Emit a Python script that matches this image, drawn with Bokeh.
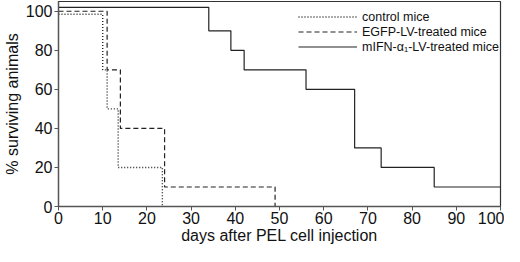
from bokeh.plotting import figure
from bokeh.models import Range1d, Legend, LegendItem, FixedTicker
from bokeh.embed import file_html
from bokeh.resources import INLINE

# Kaplan-Meier style survival data (days, % surviving)
control_days = [0, 10, 11, 13.5, 23.5]
control_surv = [98.5, 70, 50, 20, 0]

egfp_days = [0, 11, 14, 24, 49]
egfp_surv = [100, 70, 40, 10, 0]

mifn_days = [0, 34, 39, 42, 56, 67, 73, 85, 100]
mifn_surv = [102, 90, 80, 70, 60, 30, 20, 10, 10]

x_ticks = [0, 10, 20, 30, 40, 50, 60, 70, 80, 90, 100]
y_ticks = [0, 20, 40, 60, 80, 100]

FONT = "Liberation Sans"
LINE = "#222222"

p = figure(width=504, height=246, output_backend="svg", toolbar_location=None,
           x_range=Range1d(0, 100), y_range=Range1d(0, 105),
           min_border_left=40, min_border_right=4, min_border_top=1, min_border_bottom=30)

p.xgrid.visible = False
p.ygrid.visible = False
p.outline_line_color = "#333333"
p.outline_line_width = 1.2
p.background_fill_color = "white"
p.border_fill_color = "white"

for ax in (p.xaxis[0], p.yaxis[0]):
    ax.axis_line_color = "#555555"
    ax.axis_line_width = 1.3
    ax.major_tick_line_color = "#555555"
    ax.major_tick_out = 4
    ax.major_tick_in = 0
    ax.minor_tick_line_color = None
    ax.major_label_text_font = FONT
    ax.major_label_text_font_size = "16px"
    ax.major_label_text_color = "#111111"
    ax.axis_label_text_font = FONT
    ax.axis_label_text_font_size = "16px"
    ax.axis_label_text_font_style = "normal"
    ax.axis_label_text_color = "#111111"

p.xaxis.ticker = FixedTicker(ticks=x_ticks)
p.yaxis.ticker = FixedTicker(ticks=y_ticks)
p.xaxis.axis_label = "days after PEL cell injection"
p.yaxis.axis_label = "% surviving animals"
p.xaxis.major_label_standoff = 1
p.xaxis.axis_label_standoff = 0
p.yaxis.major_label_standoff = 2
p.yaxis.axis_label_standoff = 2

r_ctrl = p.step(control_days, control_surv, mode="after", line_color=LINE,
                line_width=1.4, line_dash="1 2")
r_egfp = p.step(egfp_days, egfp_surv, mode="after", line_color=LINE,
                line_width=1.2, line_dash="5 3")
r_mifn = p.step(mifn_days, mifn_surv, mode="after", line_color=LINE,
                line_width=1.2)

legend = Legend(items=[
    LegendItem(label="control mice", renderers=[r_ctrl]),
    LegendItem(label="EGFP-LV-treated mice", renderers=[r_egfp]),
    LegendItem(label="mIFN-\u03b1\u2081-LV-treated mice", renderers=[r_mifn]),
], location=(240, 152))
legend.border_line_color = None
legend.background_fill_alpha = 0
legend.label_text_font = FONT
legend.label_text_font_size = "12.5px"
legend.label_text_color = "#111111"
legend.glyph_width = 59
legend.glyph_height = 15
legend.label_height = 15
legend.spacing = 0
legend.padding = 0
legend.margin = 0
legend.label_standoff = 5
p.add_layout(legend, "center")

open("out.html", "w").write(file_html(p, INLINE))
